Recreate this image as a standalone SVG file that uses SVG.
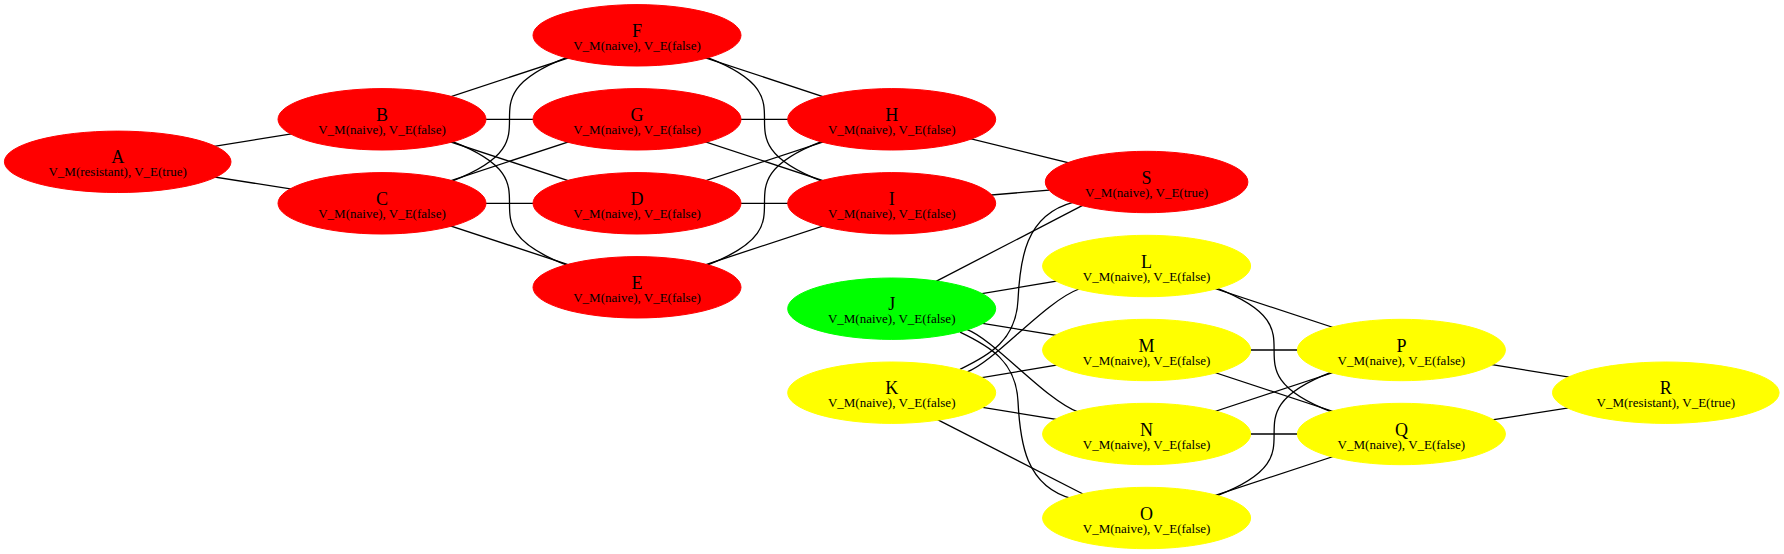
<svg xmlns="http://www.w3.org/2000/svg" width="1784" height="554" viewBox="0 0 1784 554">
<style>
.e{stroke:#000;stroke-width:1.3;fill:none}
.red{fill:#ff0000;stroke:#ff0000}
.yel{fill:#ffff00;stroke:#ffff00}
.grn{fill:#00ff00;stroke:#00ff00}
.t1{font-family:"Liberation Serif","Times New Roman",serif;font-size:18px;text-anchor:middle;fill:#000}
.t2{font-family:"Liberation Serif","Times New Roman",serif;font-size:13px;text-anchor:middle;fill:#000}
</style>
<rect width="1784" height="554" fill="#fff"/>
<g id="connectors">
<line class="e" x1="117.7" y1="161.8" x2="382" y2="119.3"/>
<line class="e" x1="117.7" y1="161.8" x2="382" y2="203.3"/>
<line class="e" x1="382" y1="119.3" x2="637" y2="35.3"/>
<line class="e" x1="382" y1="119.3" x2="637" y2="119.3"/>
<line class="e" x1="382" y1="119.3" x2="637" y2="203.3"/>
<path class="e" d="M452.7,141.7 C566.3,186 452.7,220.6 566.3,265"/>
<path class="e" d="M452.7,180.9 C566.3,136.6 452.7,102 566.3,57.6"/>
<line class="e" x1="382" y1="203.3" x2="637" y2="119.3"/>
<line class="e" x1="382" y1="203.3" x2="637" y2="203.3"/>
<line class="e" x1="382" y1="203.3" x2="637" y2="287.3"/>
<line class="e" x1="637" y1="35.3" x2="891.7" y2="119.3"/>
<path class="e" d="M707.7,57.7 C821.3,102 707.7,136.6 821.3,181"/>
<line class="e" x1="637" y1="119.3" x2="891.7" y2="119.3"/>
<line class="e" x1="637" y1="119.3" x2="891.7" y2="203.3"/>
<line class="e" x1="637" y1="203.3" x2="891.7" y2="119.3"/>
<line class="e" x1="637" y1="203.3" x2="891.7" y2="203.3"/>
<path class="e" d="M707.7,264.9 C821.3,220.6 707.7,186 821.3,141.6"/>
<line class="e" x1="637" y1="287.3" x2="891.7" y2="203.3"/>
<line class="e" x1="891.7" y1="119.3" x2="1146.6" y2="182"/>
<line class="e" x1="891.7" y1="203.3" x2="1146.6" y2="182"/>
<path class="e" d="M936,281.4 L1085,204.1"/>
<path class="e" d="M960,369.3 C990,355 1016,340 1018,300 C1020,260 1025,215 1073,202.3"/>
<line class="e" x1="891.7" y1="308.7" x2="1146.6" y2="266"/>
<line class="e" x1="891.7" y1="308.7" x2="1146.6" y2="350"/>
<path class="e" d="M966.7,329.3 C995,340 1045,400 1079,412.4"/>
<path class="e" d="M960,332.1 C990,346.4 1016,361.4 1018,401.4 C1020,441.4 1025,486.4 1073,499"/>
<path class="e" d="M966.7,372.1 C995,361.4 1045,301.4 1079,289"/>
<line class="e" x1="891.7" y1="392.7" x2="1146.6" y2="350"/>
<line class="e" x1="891.7" y1="392.7" x2="1146.6" y2="434"/>
<path class="e" d="M937,419.4 L1083,494"/>
<line class="e" x1="1146.6" y1="266" x2="1401.4" y2="350"/>
<path class="e" d="M1217.3,288.4 C1330.9,332.7 1217.3,367.3 1330.9,411.7"/>
<line class="e" x1="1146.6" y1="350" x2="1401.4" y2="350"/>
<line class="e" x1="1146.6" y1="350" x2="1401.4" y2="434"/>
<line class="e" x1="1146.6" y1="434" x2="1401.4" y2="350"/>
<line class="e" x1="1146.6" y1="434" x2="1401.4" y2="434"/>
<path class="e" d="M1217.3,495.6 C1330.9,451.3 1217.3,416.7 1330.9,372.3"/>
<line class="e" x1="1146.6" y1="518" x2="1401.4" y2="434"/>
<line class="e" x1="1401.4" y1="350" x2="1665.8" y2="392.7"/>
<line class="e" x1="1401.4" y1="434" x2="1665.8" y2="392.7"/>
</g>
<g id="A"><ellipse class="red" cx="117.7" cy="161.8" rx="113.3" ry="30.7"/><text class="t1" x="117.7" y="163.3">A</text><text class="t2" x="117.7" y="176.4">V_M(resistant), V_E(true)</text></g>
<g id="B"><ellipse class="red" cx="382" cy="119.3" rx="104" ry="30.7"/><text class="t1" x="382" y="120.8">B</text><text class="t2" x="382" y="133.9">V_M(naive), V_E(false)</text></g>
<g id="C"><ellipse class="red" cx="382" cy="203.3" rx="104" ry="30.7"/><text class="t1" x="382" y="204.8">C</text><text class="t2" x="382" y="217.9">V_M(naive), V_E(false)</text></g>
<g id="F"><ellipse class="red" cx="637" cy="35.3" rx="104" ry="30.7"/><text class="t1" x="637" y="36.8">F</text><text class="t2" x="637" y="49.9">V_M(naive), V_E(false)</text></g>
<g id="G"><ellipse class="red" cx="637" cy="119.3" rx="104" ry="30.7"/><text class="t1" x="637" y="120.8">G</text><text class="t2" x="637" y="133.9">V_M(naive), V_E(false)</text></g>
<g id="D"><ellipse class="red" cx="637" cy="203.3" rx="104" ry="30.7"/><text class="t1" x="637" y="204.8">D</text><text class="t2" x="637" y="217.9">V_M(naive), V_E(false)</text></g>
<g id="E"><ellipse class="red" cx="637" cy="287.3" rx="104" ry="30.7"/><text class="t1" x="637" y="288.8">E</text><text class="t2" x="637" y="301.9">V_M(naive), V_E(false)</text></g>
<g id="H"><ellipse class="red" cx="891.7" cy="119.3" rx="104" ry="30.7"/><text class="t1" x="891.7" y="120.8">H</text><text class="t2" x="891.7" y="133.9">V_M(naive), V_E(false)</text></g>
<g id="I"><ellipse class="red" cx="891.7" cy="203.3" rx="104" ry="30.7"/><text class="t1" x="891.7" y="204.8">I</text><text class="t2" x="891.7" y="217.9">V_M(naive), V_E(false)</text></g>
<g id="S"><ellipse class="red" cx="1146.6" cy="182" rx="101.3" ry="30.7"/><text class="t1" x="1146.6" y="183.5">S</text><text class="t2" x="1146.6" y="196.6">V_M(naive), V_E(true)</text></g>
<g id="J"><ellipse class="grn" cx="891.7" cy="308.7" rx="104" ry="30.7"/><text class="t1" x="891.7" y="310.2">J</text><text class="t2" x="891.7" y="323.3">V_M(naive), V_E(false)</text></g>
<g id="K"><ellipse class="yel" cx="891.7" cy="392.7" rx="104" ry="30.7"/><text class="t1" x="891.7" y="394.2">K</text><text class="t2" x="891.7" y="407.3">V_M(naive), V_E(false)</text></g>
<g id="L"><ellipse class="yel" cx="1146.6" cy="266" rx="104" ry="30.7"/><text class="t1" x="1146.6" y="267.5">L</text><text class="t2" x="1146.6" y="280.6">V_M(naive), V_E(false)</text></g>
<g id="M"><ellipse class="yel" cx="1146.6" cy="350" rx="104" ry="30.7"/><text class="t1" x="1146.6" y="351.5">M</text><text class="t2" x="1146.6" y="364.6">V_M(naive), V_E(false)</text></g>
<g id="N"><ellipse class="yel" cx="1146.6" cy="434" rx="104" ry="30.7"/><text class="t1" x="1146.6" y="435.5">N</text><text class="t2" x="1146.6" y="448.6">V_M(naive), V_E(false)</text></g>
<g id="O"><ellipse class="yel" cx="1146.6" cy="518" rx="104" ry="30.7"/><text class="t1" x="1146.6" y="519.5">O</text><text class="t2" x="1146.6" y="532.6">V_M(naive), V_E(false)</text></g>
<g id="P"><ellipse class="yel" cx="1401.4" cy="350" rx="104" ry="30.7"/><text class="t1" x="1401.4" y="351.5">P</text><text class="t2" x="1401.4" y="364.6">V_M(naive), V_E(false)</text></g>
<g id="Q"><ellipse class="yel" cx="1401.4" cy="434" rx="104" ry="30.7"/><text class="t1" x="1401.4" y="435.5">Q</text><text class="t2" x="1401.4" y="448.6">V_M(naive), V_E(false)</text></g>
<g id="R"><ellipse class="yel" cx="1665.8" cy="392.7" rx="113.3" ry="30.7"/><text class="t1" x="1665.8" y="394.2">R</text><text class="t2" x="1665.8" y="407.3">V_M(resistant), V_E(true)</text></g>
</svg>
